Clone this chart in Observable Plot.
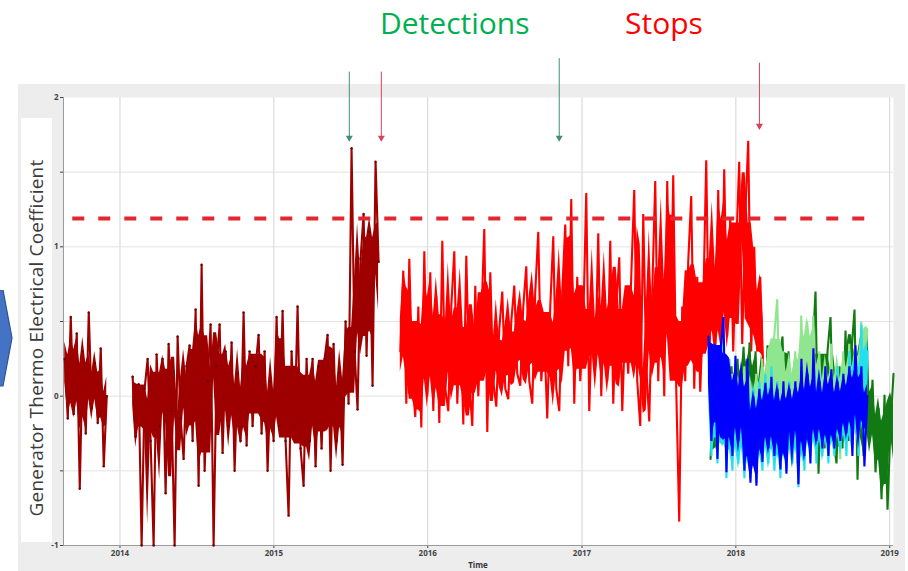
<!DOCTYPE html>
<html>
<head>
<meta charset="utf-8">
<script src="https://cdn.jsdelivr.net/npm/d3@7"></script>
<script src="https://cdn.jsdelivr.net/npm/@observablehq/plot@0.6"></script>
<style>
  body { margin: 0; background: #ffffff; font-family: "Open Sans", sans-serif; }
  #wrap { position: relative; width: 908px; height: 571px; overflow: hidden; background: #ffffff; }
  #panel { position: absolute; left: 18px; top: 84px; width: 887px; height: 487px; background: #ededed; }
  #lblbox { position: absolute; left: 21px; top: 118px; width: 31px; height: 424px; background: #ffffff; }
  .title { position: absolute; top: 8px; font-size: 30px; line-height: 30px; white-space: nowrap; }
  #ylabel { position: absolute; left: 36px; top: 338px; transform: translate(-50%, -50%) rotate(-90deg);
            white-space: nowrap; font-size: 19px; letter-spacing: 0.2px; color: #3c3c3c; }
  #xlabel { position: absolute; left: 478px; top: 560px; transform: translateX(-50%);
            font-size: 8px; font-weight: bold; color: #333; line-height: 10px; }
  #chart { position: absolute; left: 0; top: 0; }
  #chev { position: absolute; left: 0; top: 290px; }
</style>
</head>
<body>
<div id="wrap">
  <div id="panel"></div>
  <div id="lblbox"></div>
  <svg id="chev" width="16" height="100"><polygon points="-2,0 3,0 12,48 3,96 -2,96" fill="#4472c4" stroke="#2f528f" stroke-width="1.2"/></svg>
  <div class="title" style="left:380px;color:#00b050">Detections</div>
  <div class="title" style="left:625px;color:#ff0000">Stops</div>
  <div id="ylabel">Generator Thermo Electrical Coefficient</div>
  <div id="chart"></div>
  <div id="xlabel">Time</div>
</div>
<script>
// ---- tick labels ----
const yearTicks = [2014, 2015, 2016, 2017, 2018, 2019];
const yTicks = [-1, -0.5, 0, 0.5, 1, 1.5, 2];
const xDomain = ["2013-08-20", "2019-01-10"];

// ---- sampling: values about weekly ----
const stepDays = 7.115;

// ---- series values ----
const darkRedAStart = "2013-08-23";
const darkRedA = [0.25,-0.15,0.53,-0.12,0.42,-0.62,0.3,-0.25,0.56,-0.08,0.22,-0.18,0.32,-0.47,0.0];

const darkRedBStart = "2014-01-31";
const darkRedB = [0.13,-0.27,0.08,-1.0,0.05,0.25,-0.3,-1.0,0.28,-0.2,0.25,-0.65,0.35,-0.1,-1.0,0.40,-0.15,-0.42,0.2,0.34,
  -0.3,0.58,-0.6,0.88,-0.5,0.1,0.48,-1.0,0.2,0.48,-0.38,0.3,-0.2,0.36,-0.5,0.15,-0.3,0.56,-0.33,0.3,
  -0.2,0.2,0.41,-0.25,0.3,-0.5,0.1,-0.3,0.53,-0.2,0.57,-0.3,-0.8,0.3,-0.2,0.6,-0.35,-0.6,0.25,-0.3,
  0.25,-0.47,0.2,-0.35,0.25,0.41,-0.5,0.35,-0.3,0.16,-0.46,0.5,-0.05,1.66,0.3,-0.09,0.92,1.22,0.27,1.1,
  0.07,1.57,0.9];

const redStart = "2015-10-28";
const red = [0.3,0.84,-0.05,0.92,0.1,-0.14,0.6,-0.21,0.97,0.0,
  0.83,-0.1,0.67,-0.18,1.04,0.05,-0.1,0.6,0.97,-0.05,
  0.55,-0.19,0.94,0.1,-0.2,0.74,0.0,0.5,1.12,-0.24,
  0.83,0.1,-0.07,0.45,0.7,0.05,-0.02,0.5,0.74,0.15,
  0.07,0.6,0.87,0.1,-0.05,0.7,1.1,0.1,0.4,-0.15,
  0.6,1.07,0.05,-0.1,0.7,1.15,0.2,1.32,-0.05,0.8,
  0.1,0.5,1.36,-0.1,0.6,0.2,1.09,0.0,0.7,0.1,
  1.04,-0.05,0.6,0.93,-0.1,0.5,0.15,0.8,1.38,0.1,
  -0.2,1.22,0.2,-0.17,0.7,1.44,0.1,0.9,0.0,1.44,
  0.3,1.48,0.05,-0.84,0.6,0.1,0.9,1.34,0.05,0.8,
  0.03,0.6,1.58,0.2,1.0,0.3,1.38,0.25,1.52,0.4,
  1.2,0.3,1.0,1.57,0.35,1.2,1.71,0.3,1.0,0.3,
  0.8,0.2];

const darkGreenStart = "2017-11-02";
const darkGreen = [-0.42,0.1,-0.35,0.2,-0.3,0.15,-0.35,0.2,-0.3,0.25,-0.25,0.33,-0.2,0.36,-0.3,0.3,-0.35,0.2,-0.3,0.34,
  -0.35,0.2,-0.3,0.25,0.4,-0.35,0.3,-0.4,0.2,-0.45,0.25,-0.35,0.2,-0.3,0.3,0.7,-0.52,0.2,-0.35,0.3,
  0.53,-0.3,-0.45,0.2,-0.35,0.44,-0.3,0.3,0.58,-0.56,0.2,-0.4,0.45,-0.3,0.11,-0.51,-0.08,-0.69,0.01,-0.76,
  -0.2,0.15];

const lightGreenStart = "2017-11-25";
const lightGreen = [0.1,-0.2,0.2,-0.3,0.15,-0.25,0.1,-0.3,0.2,-0.3,0.1,-0.35,0.15,-0.3,0.25,-0.2,0.32,-0.25,0.4,0.65,
  -0.2,0.3,-0.3,0.25,-0.25,0.3,-0.3,0.54,0.0,0.5,-0.2,0.54,-0.3,0.3,-0.25,0.2,-0.3,0.35,-0.2,0.2,
  -0.42,0.3,-0.3,0.35,-0.25,0.3,-0.3,0.5,0.1,0.45];

const cyanStart = "2017-10-28";
const cyan = [0.3,-0.4,0.25,-0.45,0.2,0.35,-0.55,0.25,-0.5,0.2,-0.45,0.1,-0.55,0.2,-0.55,0.05,-0.58,0.1,-0.5,0.15,
  -0.45,0.2,-0.5,0.1,-0.55,0.05,-0.5,0.1,-0.45,0.05,-0.61,0.2,-0.5,0.1,-0.4,0.25,-0.45,0.15,-0.4,0.2,
  -0.45,0.1,-0.4,0.2,-0.35,0.1,-0.4,0.3,-0.35,0.3,-0.4,0.48,-0.3,0.3];

const blueStart = "2017-10-28";
const blue = [0.4,-0.3,0.35,-0.42,0.3,0.53,-0.51,0.2,-0.4,0.27,-0.3,0.15,-0.5,0.25,-0.58,0.0,-0.6,0.05,-0.44,0.09,
  -0.35,0.13,-0.4,0.05,-0.49,0.1,-0.52,0.05,-0.3,0.1,-0.59,0.25,-0.4,0.15,-0.45,0.32,-0.3,0.1,-0.35,0.2,
  -0.4,0.18,-0.35,0.1,-0.3,0.15,-0.25,0.2,-0.4,0.34,-0.2,0.2,-0.47,0.0];

// ---- threshold and annotation arrows ----
const threshold = [{y: 1.19, x1: "2013-09-11", x2: "2018-12-01"}];
const arrows = [
  {date: "2015-06-29", top: 2.17, bottom: 1.73, color: "#3f9070"},
  {date: "2015-09-13", top: 2.17, bottom: 1.73, color: "#d8435a"},
  {date: "2016-11-08", top: 2.26, bottom: 1.73, color: "#3f9070"},
  {date: "2018-02-26", top: 2.23, bottom: 1.81, color: "#d8435a"}
];

// ---- build tables ----
const toDate = s => new Date(s + "T00:00:00Z");
const dayMs = 864e5;
// each sample also carries the local quantile band of its neighbours (dense core of the signal)
function series(start, values) {
  const t0 = toDate(start).getTime();
  return values.map((v, i) => {
    const win = values.slice(Math.max(0, i - 2), i + 3).slice().sort(d3.ascending);
    return {date: new Date(t0 + i * stepDays * dayMs), value: v,
            lo: d3.quantileSorted(win, 0.3), hi: d3.quantileSorted(win, 0.7)};
  });
}
const groups = [
  {color: "#9e0000", pts: series(darkRedAStart, darkRedA), dots: true},
  {color: "#9e0000", pts: series(darkRedBStart, darkRedB), dots: true},
  {color: "#ff0000", pts: series(redStart, red)},
  {color: "#127a12", pts: series(darkGreenStart, darkGreen)},
  {color: "#8fe68f", pts: series(lightGreenStart, lightGreen)},
  {color: "#22e0ee", pts: series(cyanStart, cyan)},
  {color: "#0000ff", pts: series(blueStart, blue)}
];
const seriesMarks = groups.flatMap(g => {
  const m = [
    Plot.areaY(g.pts, {x: "date", y1: "lo", y2: "hi", fill: g.color, curve: "linear"}),
    Plot.line(g.pts, {x: "date", y: "value", stroke: g.color, strokeWidth: 2.1, strokeLinejoin: "miter", strokeMiterlimit: 2})
  ];
  if (g.dots) m.push(Plot.dot(g.pts, {x: "date", y: "value", r: 1.2, fill: "#6a0000"}));
  return m;
});

const yearDates = yearTicks.map(y => toDate(y + "-01-01"));
const thr = threshold.map(d => ({y: d.y, x1: toDate(d.x1), x2: toDate(d.x2)}));
const arr = arrows.map(d => ({...d, date: toDate(d.date)}));
const dom = xDomain.map(toDate);

const chart = Plot.plot({
  width: 908,
  height: 571,
  marginLeft: 63,
  marginRight: 15,
  marginTop: 97,
  marginBottom: 26,
  style: {background: "transparent", overflow: "visible", fontFamily: "Open Sans, sans-serif"},
  x: {type: "utc", domain: dom},
  y: {domain: [-1, 2]},
  marks: [
    Plot.frame({fill: "white", stroke: null}),
    Plot.gridX(yearDates, {stroke: "#d4d4d4", strokeOpacity: 1}),
    Plot.gridY(yTicks.filter(t => t > -1 && t < 2), {stroke: "#e2e2e2", strokeOpacity: 1}),
    Plot.axisX(yearDates, {tickFormat: "%Y", fontSize: 8, fontWeight: "bold", tickSize: 3, tickPadding: 2, color: "#444", label: null}),
    Plot.axisY(yTicks, {tickFormat: d => Number.isInteger(d) ? String(d) : "", fontSize: 8, fontWeight: "bold", tickSize: 3, tickPadding: 2, color: "#444", label: null}),
    Plot.ruleX([dom[0]], {stroke: "#9a9a9a"}),
    Plot.ruleY([-1], {stroke: "#9a9a9a"}),
    ...seriesMarks,
    Plot.ruleY(thr, {y: "y", x1: "x1", x2: "x2", stroke: "#e3262f", strokeWidth: 4, strokeDasharray: "12,14"}),
    Plot.ruleX(arr, {x: "date", y1: "top", y2: "bottom", stroke: "color", strokeWidth: 1}),
    Plot.dot(arr, {x: "date", y: "bottom", symbol: "triangle", r: 2.6, fill: "color", stroke: null, rotate: 180})
  ]
});
document.getElementById("chart").appendChild(chart);
</script>
</body>
</html>
